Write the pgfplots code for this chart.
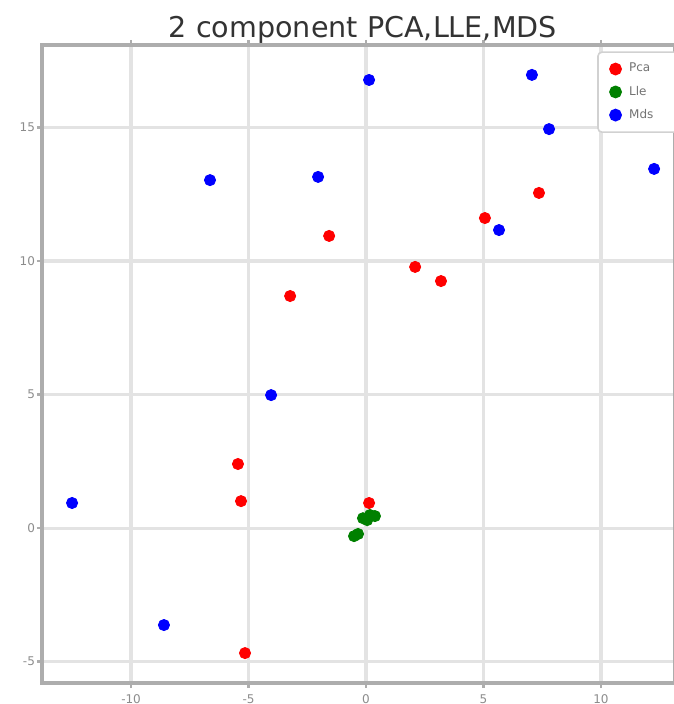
\documentclass[border=0pt]{standalone}
\usepackage{pgfplots}
\pgfplotsset{compat=1.18}
\usepackage{fontspec}
\setmainfont{DejaVu Sans}
\definecolor{mgreen}{RGB}{0,128,0}
\begin{document}
\begin{tikzpicture}
\begin{axis}[
  at={(0,0)}, anchor=south west,
  scale only axis, width=316.5pt, height=319pt,
  xmin=-13.79, xmax=13.15, ymin=-5.8, ymax=18.09,
  xtick={-10,-5,0,5,10}, ytick={-5,0,5,10,15},
  grid=major,
  major grid style={draw=black!11, line width=1.6pt},
  axis line style={draw=black!32, line width=1.8pt},
  tick align=outside, major tick length=2.5pt,
  every tick/.style={draw=black!32, line width=1.2pt},
  tick label style={font=\fontsize{6}{7}\selectfont, text=black!45},
  /pgf/number format/assume math mode=true,
  xticklabel style={anchor=base, yshift=-7.5pt},
  yticklabel style={anchor=east, xshift=2.5pt},
  title={2 component PCA,LLE,MDS},
  title style={at={(0.507,1)}, anchor=base, yshift=-2.5pt, font=\fontsize{14.3}{16}\selectfont, text=black!80},
  legend style={at={(0.877,0.99)}, anchor=north west, draw=black!18, line width=0.8pt, rounded corners=2pt,
    font=\fontsize{6}{7}\selectfont, text=black!55, row sep=1.5pt, inner xsep=6pt, inner ysep=3.5pt},
  legend cell align=left,
]
\addplot[only marks, mark=*, mark size=2.8pt, color=red] coordinates {
(5.06,11.61) (7.36,12.55) (-1.57,10.94) (2.09,9.78) (3.19,9.25) (-3.23,8.69) (-5.45,2.40) (-5.32,1.01) (0.13,0.94) (-5.15,-4.68)
};
\addlegendentry{\makebox[40pt][l]{\hspace{2pt}Pca}}
\addplot[only marks, mark=*, mark size=2.8pt, color=mgreen] coordinates {
(0.17,0.49) (-0.13,0.37) (0.38,0.45) (0.05,0.30) (-0.34,-0.22) (-0.51,-0.30)
};
\addlegendentry{\makebox[40pt][l]{\hspace{2pt}Lle}}
\addplot[only marks, mark=*, mark size=2.8pt, color=blue] coordinates {
(0.13,16.78) (7.06,16.97) (7.79,14.94) (12.26,13.45) (-6.64,13.03) (-2.04,13.15) (5.66,11.16) (-4.04,4.98) (-12.51,0.94) (-8.60,-3.63)
};
\addlegendentry{\makebox[40pt][l]{\hspace{2pt}Mds}}
\end{axis}
\pgfresetboundingbox
\path (-21pt,-10.5pt) rectangle (315.5pt,341.5pt);
\end{tikzpicture}
\end{document}
